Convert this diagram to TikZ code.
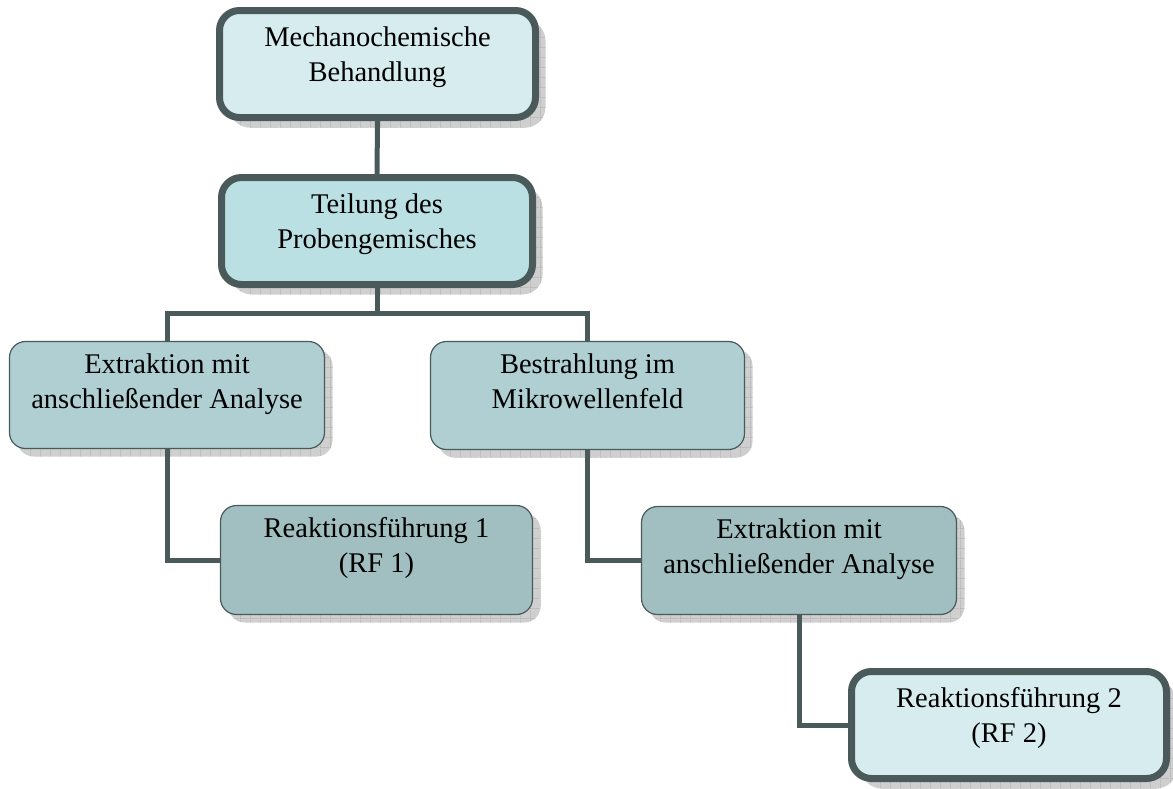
\documentclass[tikz,border=0pt]{standalone}
\usepackage{fontspec}
\setmainfont{Liberation Serif}
\usetikzlibrary{shadows,patterns.meta}
\definecolor{cA}{HTML}{D7ECEF}
\definecolor{cB}{HTML}{BBE0E3}
\definecolor{cC}{HTML}{AFCFD2}
\definecolor{cD}{HTML}{A1BEC0}
\definecolor{bord}{HTML}{4A5A5B}
\tikzdeclarepattern{
  name=shgrid,
  type=uncolored,
  bounding box={(0pt,0pt) and (10pt,10pt)},
  tile size={(10pt,10pt)},
  code={\draw[line width=0.8pt] (0pt,0pt) -- (10pt,0pt) (0pt,0pt) -- (0pt,10pt);}
}
\tikzset{
  shad/.style={drop shadow={shadow xshift=#1, shadow yshift=-#1, fill=gray!38, opacity=1},
               drop shadow={shadow xshift=#1, shadow yshift=-#1, pattern=shgrid, pattern color=gray!75, opacity=1}},
  thickbox/.style={draw=bord, line width=7pt, rounded corners=20pt, shad=10pt, inner sep=0pt},
  thinbox/.style={draw=bord, line width=1.2pt, rounded corners=16pt, shad=8pt, inner sep=0pt},
  txt/.style={font=\fontsize{28.5}{35}\selectfont, align=center, inner sep=0pt, anchor=north},
  conn/.style={draw=bord, line width=5pt}
}
\begin{document}
\begin{tikzpicture}[x=1pt,y=-1pt]
\useasboundingbox (0,0) rectangle (1173,788);
\begin{scope}
\clip (0,0) rectangle (1173,788);
\node[thickbox, fill=cA, minimum width=316pt, minimum height=107pt] (b1) at (377.5,64) {};
\node[thickbox, fill=cB, minimum width=311pt, minimum height=107pt] (b2) at (377,231) {};
\node[thinbox, fill=cC, minimum width=315pt, minimum height=107pt] (b3) at (167,395) {};
\node[thinbox, fill=cC, minimum width=314pt, minimum height=108pt] (b4) at (587.5,395.5) {};
\node[thinbox, fill=cD, minimum width=312pt, minimum height=109pt] (b5) at (376.5,560) {};
\node[thinbox, fill=cD, minimum width=315pt, minimum height=108pt] (b6) at (799,560.5) {};
\node[thickbox, fill=cA, minimum width=315pt, minimum height=107pt] (b7) at (1009,725) {};
\end{scope}

\node[txt] (t1) at ([yshift=-14.5pt]b1.north) {\strut Mechanochemische\\Behandlung};
\node[txt] (t2) at ([yshift=-14.5pt]b2.north) {\strut Teilung des\\Probengemisches};
\node[txt] (t3) at ([yshift=-7.5pt]b3.north) {\strut Extraktion mit\\anschließender Analyse};
\node[txt] (t4) at ([yshift=-7.5pt]b4.north) {\strut Bestrahlung im\\Mikrowellenfeld};
\node[txt] (t5) at ([yshift=-7.5pt]b5.north) {\strut Reaktionsführung 1\\(RF 1)};
\node[txt] (t6) at ([yshift=-7.5pt]b6.north) {\strut Extraktion mit\\anschließender Analyse};
\node[txt] (t7) at ([yshift=-14.5pt]b7.north) {\strut Reaktionsführung 2\\(RF 2)};

\coordinate (br) at (377,313);
\draw[conn] (b1.south) -- (b2.north);
\draw[conn] (b2.south) -- (br);
\draw[conn] (b3.north) |- (br) -| (b4.north);
\draw[conn] (b3.south) |- (b5.west);
\draw[conn] (b4.south) |- (b6.west);
\draw[conn] (b6.south) |- (b7.west);
\end{tikzpicture}
\end{document}
